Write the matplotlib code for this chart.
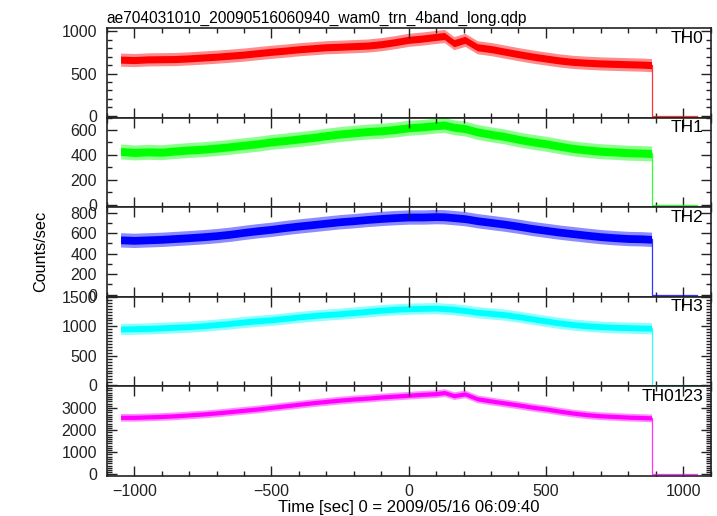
import matplotlib
matplotlib.use("Agg")
import matplotlib.pyplot as plt
from matplotlib.ticker import MultipleLocator

TITLE = "ae704031010_20090516060940_wam0_trn_4band_long.qdp"
XLABEL = "Time [sec] 0 = 2009/05/16 06:09:40"
YLABEL = "Counts/sec"

time_s = [-1050, -1000, -950, -900, -850, -800, -750, -700, -650, -600,
          -550, -500, -450, -400, -350, -300, -250, -200, -150, -100,
          -50, 0, 50, 100, 130, 165, 205, 250, 300, 350,
          400, 450, 500, 550, 600, 650, 700, 750, 800, 850, 885]

# band centre per channel (counts/sec)
th0 = [665, 660, 668, 670, 672, 680, 690, 700, 712, 725,
       742, 758, 772, 788, 800, 812, 818, 825, 832, 848,
       872, 900, 915, 935, 945, 860, 900, 812, 790, 760,
       730, 702, 678, 655, 638, 628, 620, 615, 610, 606, 600]
th1 = [428, 420, 425, 422, 432, 440, 446, 455, 466, 478,
       490, 505, 516, 528, 540, 555, 568, 578, 588, 594,
       604, 618, 625, 636, 640, 622, 612, 585, 565, 548,
       525, 506, 490, 470, 452, 440, 430, 424, 418, 415, 412]
th2 = [535, 530, 535, 540, 548, 556, 565, 576, 590, 608,
       624, 638, 655, 670, 684, 698, 712, 722, 734, 744,
       752, 758, 758, 762, 760, 752, 742, 722, 705, 688,
       668, 646, 628, 610, 595, 580, 566, 556, 548, 545, 540]
th3 = [955, 960, 965, 975, 985, 996, 1010, 1030, 1050, 1075,
       1095, 1112, 1135, 1160, 1182, 1200, 1215, 1235, 1255, 1275,
       1290, 1300, 1305, 1310, 1300, 1290, 1270, 1240, 1220, 1198,
       1165, 1128, 1092, 1058, 1030, 1010, 995, 985, 978, 972, 968]
th0123 = [2580, 2580, 2600, 2620, 2650, 2690, 2730, 2780, 2840, 2900,
          2960, 3030, 3100, 3170, 3240, 3300, 3360, 3410, 3450, 3500,
          3540, 3580, 3620, 3650, 3700, 3560, 3640, 3420, 3320, 3230,
          3140, 3040, 2960, 2860, 2770, 2700, 2650, 2620, 2590, 2570, 2555]

# half-width of the dense core and of the outer spikes, per channel
core_spread = [42, 32, 38, 50, 95]
spike_spread = [78, 60, 70, 95, 175]

# after the drop the rate sits at zero
tail_time = [886, 886, 1050]
tail_level = 0

names = ["TH0", "TH1", "TH2", "TH3", "TH0123"]
series = [th0, th1, th2, th3, th0123]
colors = ["#ff0000", "#00ff00", "#0000ff", "#00ffff", "#ff00ff"]
ylims = [(-22, 1040), (-18, 700), (-20, 855), (-15, 1505), (-60, 3990)]
major = [500, 200, 200, 500, 1000]
minor = [100, 100, 100, 50, 100]


def main():
    plt.rcParams["font.family"] = ["Liberation Sans", "DejaVu Sans"]
    fig, axes = plt.subplots(5, 1, sharex=True, figsize=(7.17, 5.16), dpi=100)
    fig.subplots_adjust(left=0.149, right=0.991, top=0.9457, bottom=0.0781, hspace=0)

    for i, ax in enumerate(axes):
        vals = series[i]
        outer_lo = [v - spike_spread[i] for v in vals]
        outer_hi = [v + spike_spread[i] for v in vals]
        core_lo = [v - core_spread[i] for v in vals]
        core_hi = [v + core_spread[i] for v in vals]
        ax.fill_between(time_s, outer_lo, outer_hi, color=colors[i], alpha=0.45, linewidth=0)
        ax.fill_between(time_s, core_lo, core_hi, color=colors[i], linewidth=0)
        ax.plot(tail_time, [vals[-1], tail_level, tail_level], color=colors[i],
                linewidth=0.9, alpha=0.8)

        ax.set_xlim(-1100, 1100)
        ax.set_ylim(*ylims[i])
        ax.xaxis.set_major_locator(MultipleLocator(500))
        ax.xaxis.set_minor_locator(MultipleLocator(100))
        ax.yaxis.set_major_locator(MultipleLocator(major[i]))
        ax.yaxis.set_minor_locator(MultipleLocator(minor[i]))
        ax.tick_params(which="both", direction="in", top=True, right=True,
                       labelsize=11.5, colors="#222222", width=1.0)
        ax.tick_params(which="major", length=7, pad=6)
        ax.tick_params(which="minor", length=3.5)
        ax.tick_params(axis="y", pad=7)
        for sp in ax.spines.values():
            sp.set_linewidth(1.2)
            sp.set_color("#222222")
        ax.text(0.988, 0.97, names[i], transform=ax.transAxes, ha="right", va="top",
                fontsize=12.5)

    axes[0].set_title(TITLE, loc="left", fontsize=11.2, pad=4)
    axes[-1].set_xlabel(XLABEL, fontsize=12, labelpad=1)
    fig.text(0.056, 0.512, YLABEL, rotation=90, ha="center", va="center", fontsize=11.7)

    fig.savefig("out.png", dpi=100)
    plt.close(fig)


if __name__ == "__main__":
    main()
